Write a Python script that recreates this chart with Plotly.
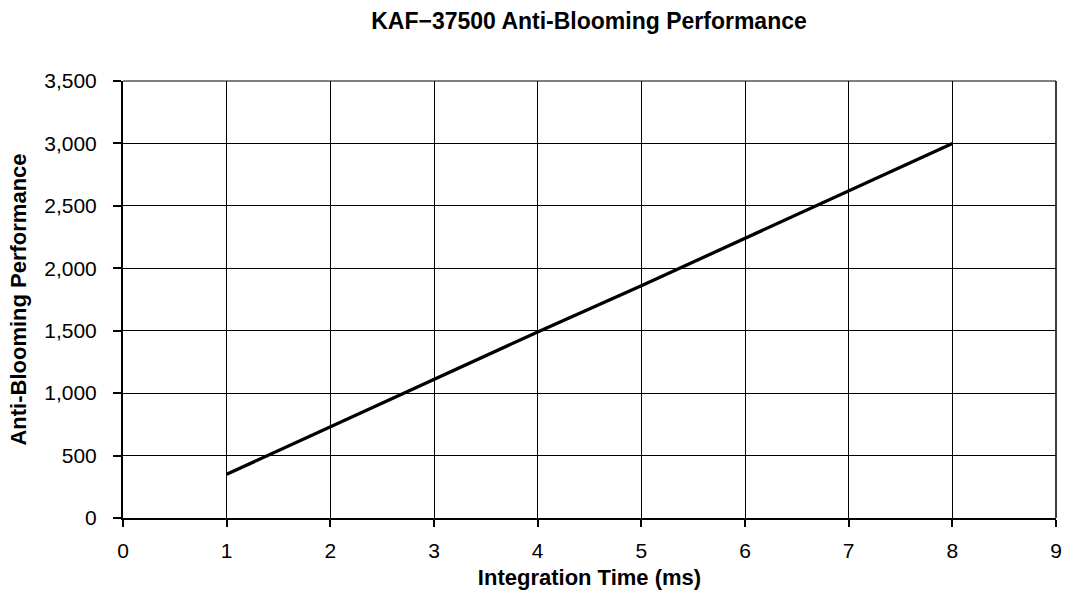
import plotly.graph_objects as go

integration_time_ms = [1, 2, 3, 4, 5, 6, 7, 8]
anti_blooming = [350, 730, 1110, 1490, 1860, 2240, 2620, 3000]

title_text = "KAF\u221237500 Anti-Blooming Performance"
x_title = "Integration Time (ms)"
y_title = "Anti-Blooming Performance"

fig = go.Figure()
fig.add_trace(go.Scatter(
    x=integration_time_ms, y=anti_blooming, mode="lines",
    line=dict(color="black", width=3.3), showlegend=False, hoverinfo="skip"))

font_family = "Liberation Sans"
fig.update_layout(
    width=1071, height=597,
    margin=dict(l=123, r=9, t=81, b=79),
    paper_bgcolor="white", plot_bgcolor="white",
    font=dict(family=font_family, size=21, color="black"),
    title=dict(text="<b>" + title_text + "</b>", x=589 / 1071, xanchor="center", xref="container",
               y=1 - 21 / 597, yanchor="middle", yref="container",
               font=dict(family=font_family, size=23, color="black")),
)
fig.update_xaxes(
    range=[0, 9], dtick=1, tick0=0, showgrid=True, gridcolor="black", gridwidth=1,
    showline=True, linecolor="black", linewidth=2, mirror=False,
    ticks="outside", ticklen=7, tickwidth=2, tickcolor="black", zeroline=False,
    ticklabelstandoff=6,
    tickfont=dict(family=font_family, size=21, color="black"),
    title=dict(text="<b>" + x_title + "</b>", standoff=8,
               font=dict(family=font_family, size=22, color="black")),
)
fig.update_yaxes(
    range=[0, 3500], dtick=500, tick0=0, tickformat=",d",
    showgrid=True, gridcolor="black", gridwidth=1,
    showline=True, linecolor="black", linewidth=2, mirror=False,
    ticks="outside", ticklen=8, tickwidth=2, tickcolor="black", zeroline=False,
    ticklabelstandoff=12,
    tickfont=dict(family=font_family, size=21, color="black"),
    title=dict(text="<b>" + y_title + "</b>", standoff=12,
               font=dict(family=font_family, size=22, color="black")),
)
# thin frame on top and right
fig.add_shape(type="line", xref="paper", yref="paper", x0=0, x1=1, y0=1, y1=1,
              line=dict(color="black", width=1))
fig.add_shape(type="line", xref="paper", yref="paper", x0=1, x1=1, y0=0, y1=1,
              line=dict(color="black", width=1.5))

fig.write_html("out.html")
